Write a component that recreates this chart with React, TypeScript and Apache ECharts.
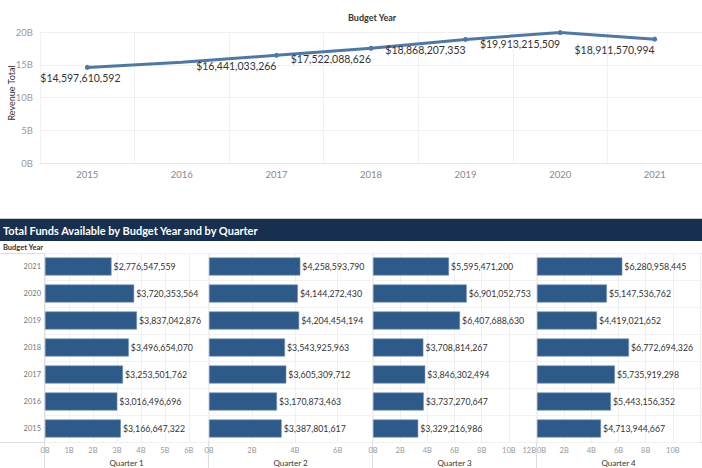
import React, { useEffect, useRef } from "react";
import * as echarts from "echarts";

const years = ["2015", "2016", "2017", "2018", "2019", "2020", "2021"];
const revenueTotal = [14597610592, 15367797158, 16441033266, 17522088626, 18868207353, 19913215509, 18911570994];
const quarterNames = ["Quarter 1", "Quarter 2", "Quarter 3", "Quarter 4"];
// values ordered 2015 .. 2021
const q1 = [3166647322, 3016496696, 3253501762, 3496654070, 3837042876, 3720353564, 2776547559];
const q2 = [3387801617, 3170873463, 3605309712, 3543925963, 4204454194, 4144272430, 4258593790];
const q3 = [3329216986, 3737270647, 3846302494, 3708814267, 6407688630, 6901052753, 5595471200];
const q4 = [4713944667, 5443156352, 5735919298, 6772694326, 4419021652, 5147536762, 6280958445];
const quarterValues = [q1, q2, q3, q4];
const quarterMax = [6.8e9, 7.6e9, 12e9, 12e9];
const quarterInterval = [1e9, 2e9, 2e9, 2e9];
const topTicks = { min: 0, max: 20e9, interval: 5e9 };

const FONT = "Lato";
const money = (v: number) => "$" + Math.round(v).toLocaleString("en-US");
const bFmt = (v: number) => (Math.abs(v % 1e9) < 1 ? v / 1e9 + "B" : "");

export default function App() {
  const ref = useRef<HTMLDivElement>(null);
  useEffect(() => {
    if (!ref.current) return;
    const chart = echarts.init(ref.current, undefined, { renderer: "svg" });

    const panelLeft = [45, 209, 373, 537];
    const panelWidth = [163, 163, 163, 163];

    const grids: any[] = [{ left: 40, top: 32, width: 662, height: 131, outerBoundsMode: "none", containLabel: false }];
    const xAxes: any[] = [
      {
        type: "category",
        gridIndex: 0,
        data: years,
        boundaryGap: true,
        axisLine: { show: true, lineStyle: { color: "#e6e6e6" } },
        axisTick: { show: false },
        axisLabel: { color: "#888", fontSize: 9.5, fontFamily: FONT, margin: 6 },
        splitLine: { show: true, lineStyle: { color: "#f0f0f0" } },
      },
    ];
    const yAxes: any[] = [
      {
        type: "value",
        gridIndex: 0,
        min: topTicks.min,
        max: topTicks.max,
        interval: topTicks.interval,
        axisLine: { show: true, lineStyle: { color: "#f0f0f0" } },
        axisTick: { show: false },
        axisLabel: { color: "#999", fontSize: 9.5, fontFamily: FONT, margin: 7, formatter: bFmt },
        splitLine: { show: true, lineStyle: { color: "#f0f0f0" } },
      },
    ];
    const series: any[] = [
      {
        type: "line",
        xAxisIndex: 0,
        yAxisIndex: 0,
        data: revenueTotal.map((v, i) => {
          const item: any = { value: v };
          if (i === 0) {
            item.label = { position: "bottom", align: "left", offset: [-47, 0] };
          }
          if (i === 1) {
            item.label = { show: false };
            item.symbolSize = 0;
          }
          return item;
        }),
        symbol: "circle",
        symbolSize: 5,
        lineStyle: { color: "#4e79a7", width: 3 },
        itemStyle: { color: "#4e79a7" },
        label: {
          show: true,
          position: "bottom",
          align: "right",
          distance: 3,
          color: "#333",
          fontSize: 10.5,
          fontFamily: FONT,
          formatter: (p: any) => money(p.value),
        },
      },
    ];

    quarterNames.forEach((qn, k) => {
      grids.push({ left: panelLeft[k], top: 253, width: panelWidth[k], height: 189, outerBoundsMode: "none", containLabel: false });
      xAxes.push({
        type: "value",
        gridIndex: k + 1,
        min: 0,
        max: quarterMax[k],
        interval: quarterInterval[k],
        name: qn,
        nameLocation: "middle",
        nameGap: 17,
        nameTextStyle: { color: "#333", fontSize: 8, fontFamily: FONT },
        axisLine: { show: false },
        axisTick: { show: false },
        axisLabel: {
          color: "#999",
          fontSize: 7.5,
          fontFamily: FONT,
          margin: 4,
          showMaxLabel: k !== 3,
          alignMaxLabel: k === 2 ? "right" : undefined,
          alignMinLabel: k === 3 ? "left" : undefined,
          formatter: bFmt,
        },
        splitLine: { show: true, lineStyle: { color: "#f0f0f0" } },
      });
      yAxes.push({
        type: "category",
        gridIndex: k + 1,
        data: years,
        axisLine: { show: false },
        axisTick: { show: false },
        axisLabel: { show: k === 0, color: "#777", fontSize: 7.5, fontFamily: FONT, margin: 4 },
        splitLine: { show: true, lineStyle: { color: "#f2f2f2" } },
      });
      series.push({
        type: "bar",
        xAxisIndex: k + 1,
        yAxisIndex: k + 1,
        data: quarterValues[k],
        barWidth: 18,
        itemStyle: { color: "#2d5a88", borderColor: "#6f93b8", borderWidth: 0.6 },
        label: {
          show: true,
          position: "right",
          distance: 2,
          color: "#333",
          fontSize: 8.8,
          fontFamily: FONT,
          formatter: (p: any) => money(p.value),
        },
      });
    });

    const graphics: any[] = [
      {
        type: "text",
        left: 348,
        top: 13,
        style: { text: "Budget Year", fill: "#333", font: `bold 9px ${FONT}` },
      },
      {
        type: "text",
        x: 11,
        y: 93,
        rotation: Math.PI / 2,
        style: { text: "Revenue Total", fill: "#333", font: `9px ${FONT}`, align: "center", verticalAlign: "middle" },
      },
      { type: "line", shape: { x1: 0, y1: 218.5, x2: 702, y2: 218.5 }, style: { stroke: "#ccc", lineWidth: 1 } },
      { type: "rect", shape: { x: 0, y: 219, width: 702, height: 22 }, style: { fill: "#17304f" } },
      {
        type: "text",
        x: 3,
        y: 230,
        style: { text: "Total Funds Available by Budget Year and by Quarter", fill: "#fff", font: `bold 11px ${FONT}`, verticalAlign: "middle" },
      },
      {
        type: "text",
        x: 3,
        y: 247,
        style: { text: "Budget Year", fill: "#333", font: `bold 7.5px ${FONT}`, verticalAlign: "middle" },
      },
      { type: "line", shape: { x1: 0, y1: 253.5, x2: 702, y2: 253.5 }, style: { stroke: "#ddd", lineWidth: 1 } },
      { type: "line", shape: { x1: 0, y1: 442.5, x2: 702, y2: 442.5 }, style: { stroke: "#ddd", lineWidth: 1 } },
      ...[44.5, 208.5, 372.5, 536.5].map((x) => ({
        type: "line",
        shape: { x1: x, y1: 253, x2: x, y2: 468 },
        style: { stroke: "#ddd", lineWidth: 1 },
      })),
    ];

    chart.setOption({
      animation: false,
      backgroundColor: "#fff",
      grid: grids,
      xAxis: xAxes,
      yAxis: yAxes,
      series,
      graphic: graphics,
    });
    return () => chart.dispose();
  }, []);

  return <div ref={ref} style={{ position: "absolute", left: 0, top: 0, width: 702, height: 468 }} />;
}
